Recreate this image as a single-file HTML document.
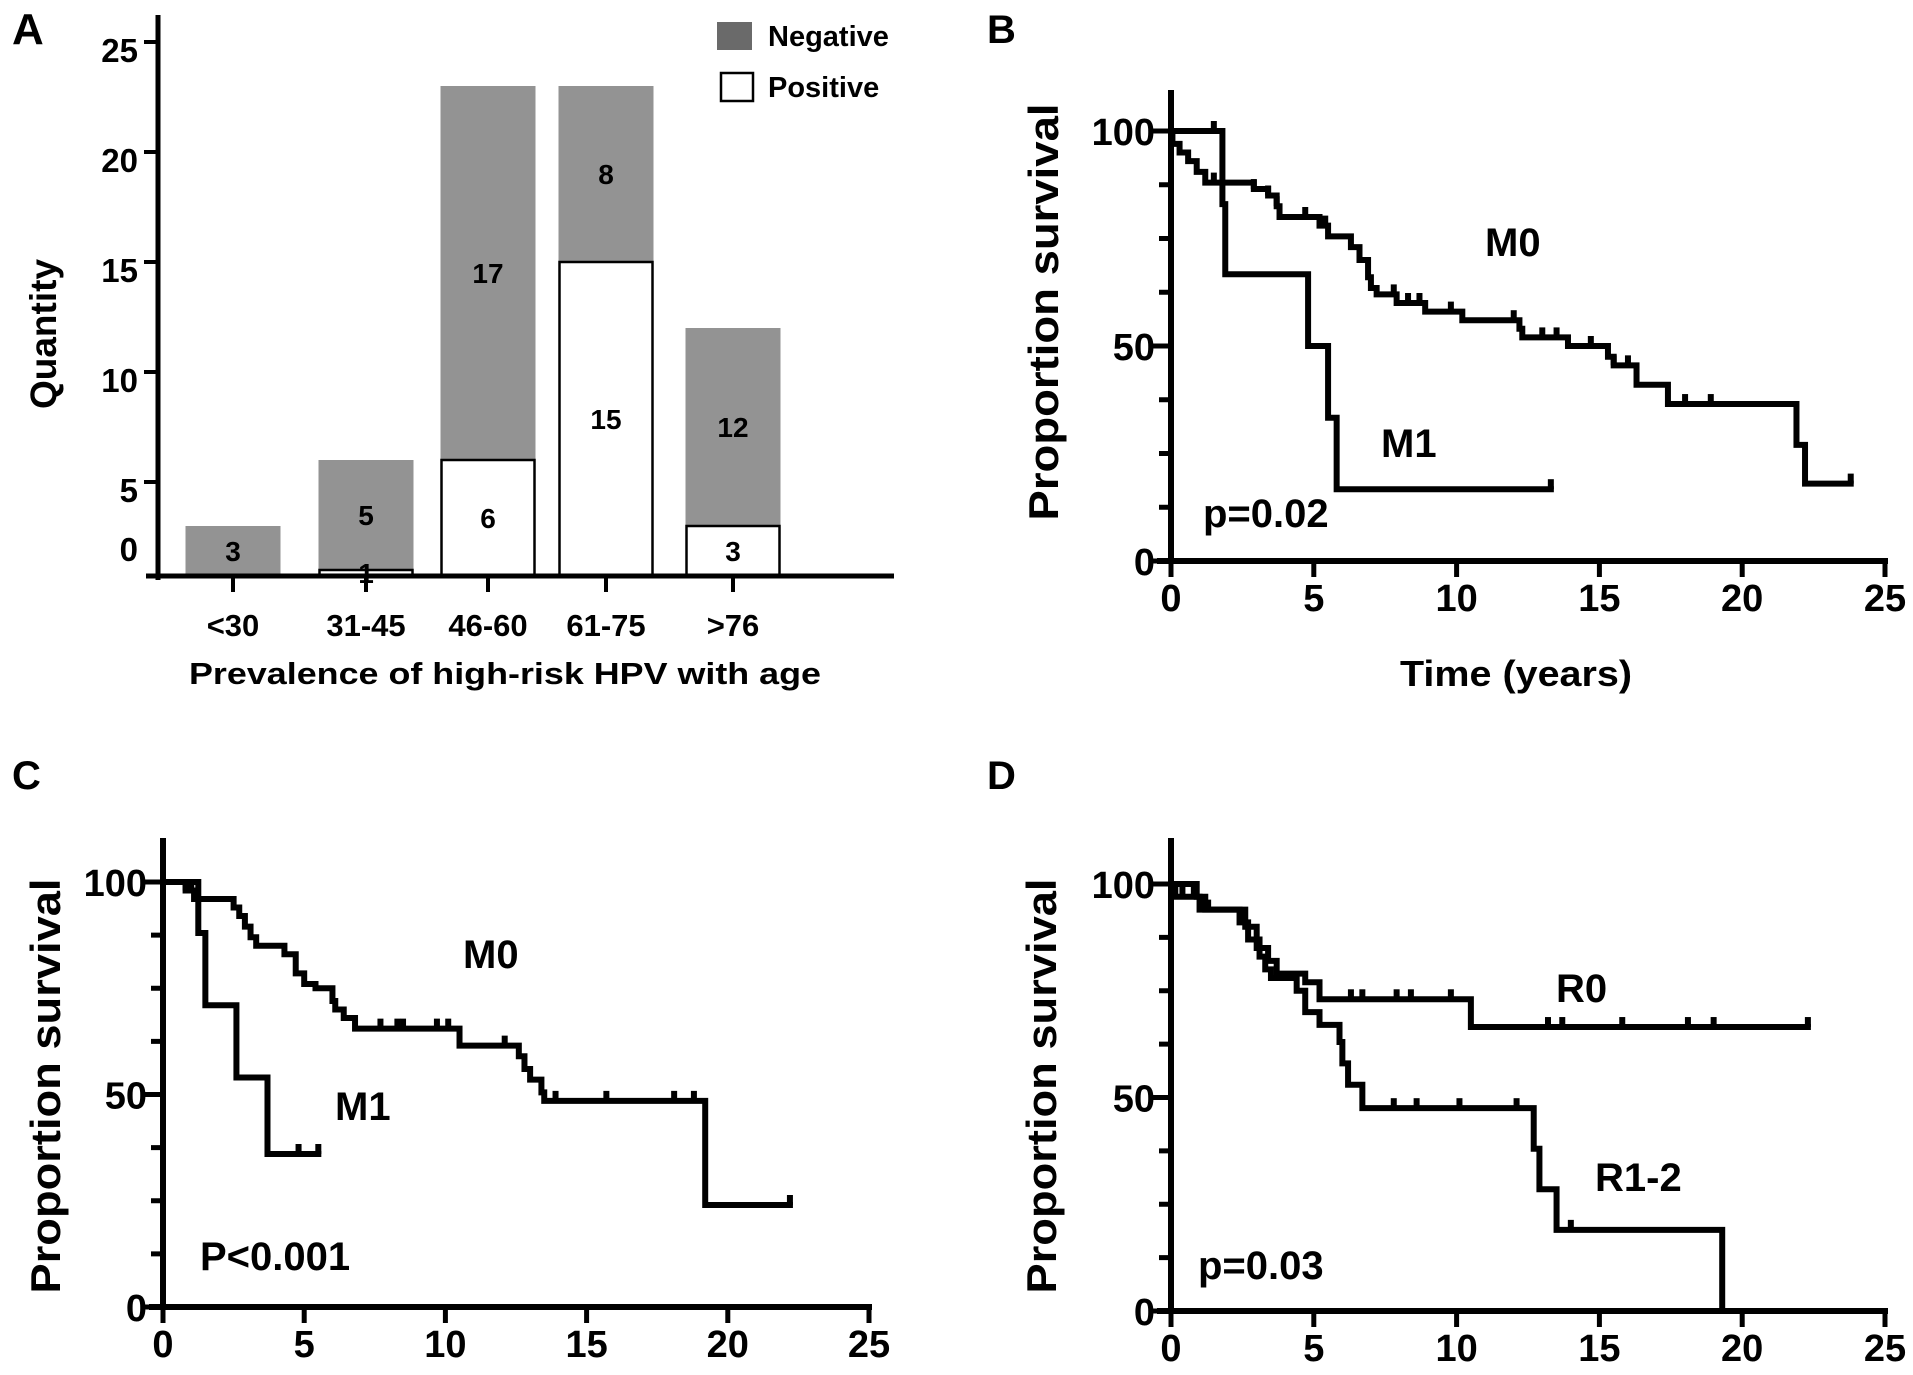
<!DOCTYPE html>
<html><head><meta charset="utf-8"><style>
html,body{margin:0;padding:0;background:#fff;}
svg{display:block;}
text{font-family:"Liberation Sans",sans-serif;font-weight:bold;fill:#000;}
.n{font-family:"Liberation Sans Narrow","Liberation Sans",sans-serif;}
</style></head><body>
<svg id="fig" width="1913" height="1375" viewBox="0 0 1913 1375" xmlns="http://www.w3.org/2000/svg">
<g id="pA"></g>
<g id="pB"></g>
<g id="pC"></g>
<g id="pD"></g>
</svg>
<script>
// ---- Panel A data ----
const ageCats = ["<30","31-45","46-60","61-75",">76"];
const negVals = [3,5,17,8,12];
const posVals = [0,1,6,15,3];
const barTotals = [3,6,23,23,12];
const aTicks = [0,5,10,15,20,25];

// ---- Panel B data ----
const bM0T = [0,0.05,0.3,0.6,0.9,1.2,2.9,3.4,3.7,3.8,5.2,5.5,6.3,6.6,6.9,7.0,7.2,7.9,8.9,10.2,12.2,12.3,13.9,15.3,15.5,16.3,17.4,21.9,22.2];
const bM0S = [100,97,95,93,90.5,88,86.5,85,82.5,80,78,75.5,73,70,66,63.5,62,60,58,56,54,52,50,47.5,45.5,41,36.5,27,18];
const bM0End = 23.8;
const bM0Cens = [1.5,2.9,3.4,3.7,4.7,5.4,7.8,8.3,8.7,9.8,12.0,13.0,13.5,14.7,15.5,16.0,18.0,18.9,23.8];
const bM1T = [0,1.8,1.9,4.8,5.5,5.8];
const bM1S = [100,83,66.7,50,33.3,16.7];
const bM1End = 13.3;
const bM1Cens = [1.5,13.3];

// ---- Panel C data ----
const cM0T = [0,0.8,1.1,2.5,2.7,2.9,3.1,3.3,4.3,4.7,5.0,5.4,6.0,6.1,6.4,6.8,10.5,12.6,12.8,13.0,13.4,13.5,19.2];
const cM0S = [100,98,96,94,92,89.5,87,85,83,78.5,76,75,72,70,68,65.5,61.5,59,56,53.5,50.5,48.5,24];
const cM0End = 22.2;
const cM0Cens = [0.8,1.0,7.7,8.3,8.5,9.7,10.1,12.1,13.9,15.7,18.1,18.8,22.2];
const cM1T = [0,1.25,1.5,2.6,3.7];
const cM1S = [100,88,71,54,36];
const cM1End = 5.5;
const cM1Cens = [4.8,5.5];

// ---- Panel D data ----
const dR0T = [0,0.15,1.2,2.6,3.0,3.4,3.7,4.7,5.2,10.5];
const dR0S = [100,97,94,90,85,82,79,77,73,66.5];
const dR0End = 22.3;
const dR0Cens = [0.4,0.8,1.3,6.3,6.7,7.9,8.4,9.8,13.2,13.7,15.8,18.1,19.0,22.3];
const dR1T = [0,0.9,1.0,2.4,2.7,3.1,3.3,3.5,4.4,4.7,5.2,5.9,6.0,6.2,6.7,12.7,12.9,13.5,19.3];
const dR1S = [100,97,94,91,87,83,80,78,75,70,67,63,58,53,47.5,38,28.5,19,0];
const dR1End = 19.3;
const dR1Cens = [7.8,8.6,10.1,12.1,14.0];

const kmYTicks = [0,50,100];
const kmXTicks = [0,5,10,15,20,25];

const NS="http://www.w3.org/2000/svg";
function mk(parent,tag,attrs,txt){const e=document.createElementNS(NS,tag);for(const k in attrs)e.setAttribute(k,attrs[k]);if(txt!==undefined)e.textContent=txt;parent.appendChild(e);return e;}

// ================= Panel A =================
(function(){
  const g=document.getElementById('pA');
  const yZero=592, ppu=22, axX=158, base=576;
  const yS=v=>Math.min(base, yZero-v*ppu);
  const centers=[233,366,488,606,733], bw=95;
  let t;
  t=mk(g,'text',{x:12,y:44,'font-size':44},'A');
  
  
  ageCats.forEach((c,i)=>{
    const x=centers[i]-bw/2;
    const tot=barTotals[i];
    const r1=mk(g,'rect',{x:x,y:yS(tot),width:bw,height:base-yS(tot),fill:'#939393'});
    
    
    if(posVals[i]>0){
      const py=yS(posVals[i]);
      const r2=mk(g,'rect',{x:x+1,y:py,width:bw-2,height:base-py,fill:'#fff',stroke:'#000','stroke-width':2.5});
      
      
      const lp=mk(g,'text',{x:centers[i],y:(py+base)/2+10,'font-size':28,'text-anchor':'middle',class:'n'},String(posVals[i]));
      
      
    }
    const ln=mk(g,'text',{x:centers[i],y:(yS(tot)+yS(posVals[i]))/2+10,'font-size':28,'text-anchor':'middle',class:'n'},String(negVals[i]));
    
    
    const tk=mk(g,'line',{x1:centers[i],x2:centers[i],y1:base,y2:base+16,stroke:'#000','stroke-width':4});
    
    
    const cl=mk(g,'text',{x:centers[i],y:636,'font-size':31,'text-anchor':'middle',class:'n'},c);
    
    
  });
  const ya=mk(g,'line',{x1:axX,x2:axX,y1:15,y2:base+4,stroke:'#000','stroke-width':5});
  
  
  const xa=mk(g,'line',{x1:146,x2:894,y1:base,y2:base,stroke:'#000','stroke-width':5});
  
  
  aTicks.forEach(v=>{
    const yy=yZero-v*ppu;
    if(v>0){const l=mk(g,'line',{x1:axX-14,x2:axX,y1:yy,y2:yy,stroke:'#000','stroke-width':4});
    
    }
    const tl=mk(g,'text',{x:axX-20,y:v===0?561:yy+20,'font-size':33,'text-anchor':'end',class:'n'},String(v));
    
    
  });
  t=mk(g,'text',{x:0,y:0,'font-size':37,'text-anchor':'middle',transform:'translate(56,334) rotate(-90)'},'Quantity');
  
  
  t=mk(g,'text',{x:505,y:684,'font-size':31,'text-anchor':'middle',textLength:632,lengthAdjust:'spacingAndGlyphs'},'Prevalence of high-risk HPV with age');
  
  
  let r=mk(g,'rect',{x:717,y:22,width:35,height:28,fill:'#6a6a6a'});
  
  
  t=mk(g,'text',{x:768,y:46,'font-size':29},'Negative');
  
  
  r=mk(g,'rect',{x:721,y:73,width:32,height:28,fill:'#fff',stroke:'#000','stroke-width':2.5});
  
  
  t=mk(g,'text',{x:768,y:97,'font-size':29},'Positive');
  
  
})();

// ================= KM panels =================
function stepVal(T,S,t){let v=S[0];for(let i=0;i<T.length;i++){if(T[i]<=t)v=S[i];}return v;}
function kmPanel(id,cfg){
  const g=document.getElementById(id);
  const xS=t=>cfg.x0+t*cfg.ppx, yS=v=>cfg.y0-v*cfg.ppy;
  let t=mk(g,'text',{x:cfg.lx,y:cfg.ly,'font-size':40},cfg.letter);
  
  
  const ya=mk(g,'line',{x1:cfg.x0,x2:cfg.x0,y1:cfg.top,y2:cfg.y0+3,stroke:'#000','stroke-width':6});
  
  
  const xa=mk(g,'line',{x1:cfg.x0-14,x2:xS(25)+3,y1:cfg.y0,y2:cfg.y0,stroke:'#000','stroke-width':6});
  
  
  for(let v=12.5;v<=100;v+=12.5){
    const l=mk(g,'line',{x1:cfg.x0-12,x2:cfg.x0,y1:yS(v),y2:yS(v),stroke:'#000','stroke-width':5});
    
    
  }
  kmYTicks.forEach(v=>{
    const l=mk(g,'line',{x1:cfg.x0-18,x2:cfg.x0,y1:yS(v),y2:yS(v),stroke:'#000','stroke-width':5});
    
    
    const tl=mk(g,'text',{x:cfg.x0-16,y:yS(v)+14,'font-size':38,'text-anchor':'end',class:'n'},String(v));
    
    
  });
  kmXTicks.forEach(v=>{
    const l=mk(g,'line',{x1:xS(v),x2:xS(v),y1:cfg.y0,y2:cfg.y0+16,stroke:'#000','stroke-width':5});
    
    
    const tl=mk(g,'text',{x:xS(v),y:cfg.y0+50,'font-size':38,'text-anchor':'middle',class:'n'},String(v));
    
    
  });
  t=mk(g,'text',{x:0,y:0,'font-size':42,'text-anchor':'middle',textLength:cfg.titleLen,lengthAdjust:'spacingAndGlyphs',transform:'translate('+cfg.tx+','+cfg.ty+') rotate(-90)'},'Proportion survival');
  
  
  if(cfg.xtitle){
    t=mk(g,'text',{x:1516,y:686,'font-size':36,'text-anchor':'middle',textLength:232,lengthAdjust:'spacingAndGlyphs'},cfg.xtitle);
    
    
  }
  cfg.series.forEach(s=>{
    let d='M'+xS(0)+' '+yS(s.S[0]);
    for(let i=1;i<s.T.length;i++){d+=' H'+xS(s.T[i])+' V'+yS(s.S[i]);}
    d+=' H'+xS(s.end);
    const p=mk(g,'path',{d:d,fill:'none',stroke:'#000','stroke-width':6,'stroke-linejoin':'miter','stroke-linecap':'square'});
    
    
    s.C.forEach(c=>{
      const v=stepVal(s.T,s.S,c);
      const m=mk(g,'line',{x1:xS(c),x2:xS(c),y1:yS(v)-10,y2:yS(v),stroke:'#000','stroke-width':6});
      
      
    });
    const lb=mk(g,'text',{x:s.lx,y:s.ly,'font-size':40,class:'n'},s.label);
    
    
  });
  t=mk(g,'text',{x:cfg.px,y:cfg.py,'font-size':40,class:'n'},cfg.p);
  
  
}
kmPanel('pB',{letter:'B',lx:987,ly:43,x0:1171,ppx:28.56,y0:561,ppy:4.3,top:90,titleLen:417,tx:1058,ty:312,xtitle:'Time (years)',
  p:'p=0.02',px:1203,py:527,
  series:[{name:'m0',T:bM0T,S:bM0S,end:bM0End,C:bM0Cens,label:'M0',lx:1485,ly:256},
          {name:'m1',T:bM1T,S:bM1S,end:bM1End,C:bM1Cens,label:'M1',lx:1381,ly:457}]});
kmPanel('pC',{letter:'C',lx:12,ly:789,x0:163,ppx:28.24,y0:1307,ppy:4.25,top:838,titleLen:415,tx:60,ty:1086,
  p:'P<0.001',px:200,py:1270,
  series:[{name:'m0',T:cM0T,S:cM0S,end:cM0End,C:cM0Cens,label:'M0',lx:463,ly:968},
          {name:'m1',T:cM1T,S:cM1S,end:cM1End,C:cM1Cens,label:'M1',lx:335,ly:1120}]});
kmPanel('pD',{letter:'D',lx:987,ly:789,x0:1171,ppx:28.56,y0:1311,ppy:4.27,top:838,titleLen:415,tx:1056,ty:1086,
  p:'p=0.03',px:1198,py:1279,
  series:[{name:'r0',T:dR0T,S:dR0S,end:dR0End,C:dR0Cens,label:'R0',lx:1556,ly:1002},
          {name:'r1-2',T:dR1T,S:dR1S,end:dR1End,C:dR1Cens,label:'R1-2',lx:1595,ly:1191}]});
</script>
</body></html>
